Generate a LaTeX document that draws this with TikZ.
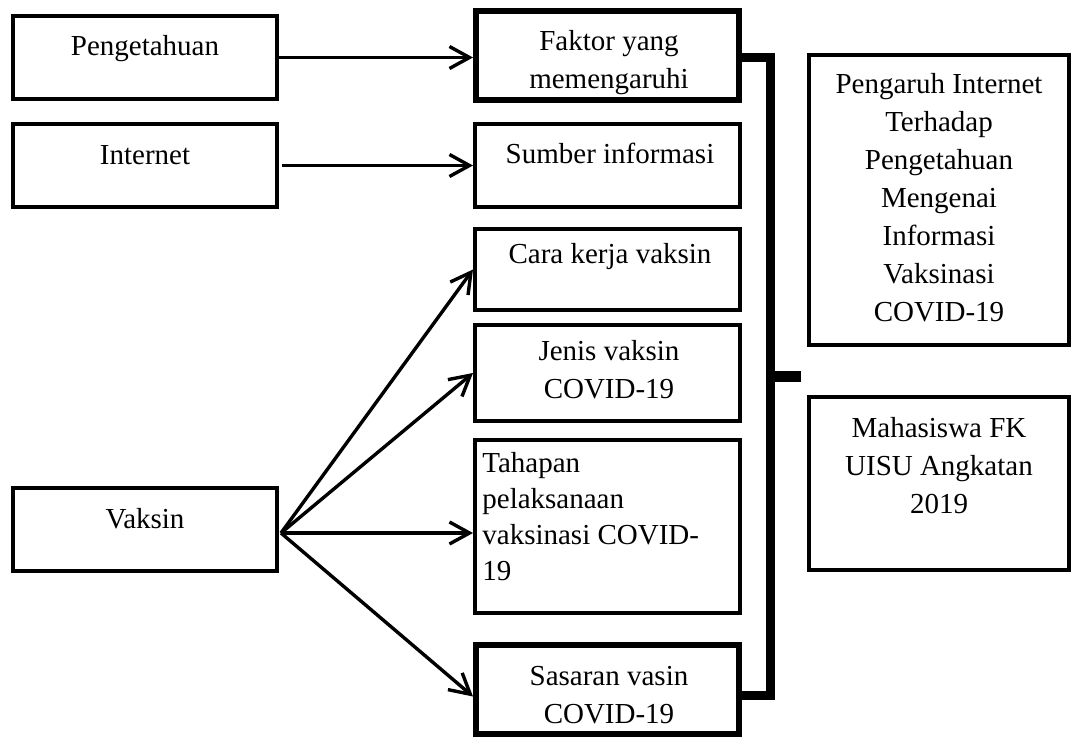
\documentclass[tikz,border=0pt]{standalone}
\usepackage{fontspec}
\setmainfont{Liberation Serif}
\usetikzlibrary{arrows.meta}
\begin{document}
\begin{tikzpicture}[x=0.5pt,y=-0.5pt,
  bx/.style={draw, line width=2pt, inner sep=0pt},
  thickbx/.style={draw, line width=3pt, inner sep=0pt},
  txt/.style={inner sep=0pt, anchor=base, align=center, font=\fontsize{14.5pt}{19pt}\selectfont},
  arr/.style={line width=1.7pt, -{Straight Barb[length=10pt,width=11pt,line width=1.7pt]}},
  bracket/.style={line width=4.5pt, line join=miter}
]
\useasboundingbox (0,0) rectangle (1073,740);
% left boxes
\node[bx, minimum width=132pt, minimum height=41.5pt] (peng) at (145,57.5) {};
\node[bx, minimum width=132pt, minimum height=41.5pt] (inet) at (145,165.5) {};
\node[bx, minimum width=132pt, minimum height=41.5pt] (vak) at (145,529.5) {};
\node[txt] (tpeng) at (145,55) {Pengetahuan};
\node[txt] (tinet) at (145,164) {Internet};
\node[txt] (tvak) at (145,528) {Vaksin};
% middle boxes
\node[thickbx, minimum width=131.5pt, minimum height=44.5pt] (fak) at (607.5,55.5) {};
\node[bx, minimum width=132.5pt, minimum height=41.5pt] (sum) at (607.5,165.5) {};
\node[bx, minimum width=132.5pt, minimum height=40.5pt] (cara) at (607.5,269.5) {};
\node[bx, minimum width=132.5pt, minimum height=48pt] (jen) at (607.5,373) {};
\node[bx, minimum width=132.5pt, minimum height=86.5pt] (tah) at (607.5,526.5) {};
\node[thickbx, minimum width=131.5pt, minimum height=44.5pt] (sas) at (607.5,689.5) {};
\node[txt] (tfak) at (609,88) {Faktor yang\\memengaruhi};
\node[txt] (tsum) at (610,163) {Sumber informasi};
\node[txt] (tcara) at (610,263) {Cara kerja vaksin};
\node[txt] (tjen) at (609,398) {Jenis vaksin\\COVID-19};
\node[txt, align=left, anchor=base west, font=\fontsize{14.5pt}{18pt}\selectfont] (ttah) at (482,580) {Tahapan\\pelaksanaan\\vaksinasi COVID-\\19};
\node[txt] (tsas) at (609,723) {Sasaran vasin\\COVID-19};
% right boxes
\node[bx, minimum width=130pt, minimum height=145pt] (pen) at (939,200) {};
\node[bx, minimum width=130pt, minimum height=86.5pt] (mah) at (939,483.5) {};
\node[txt] (tpen) at (939,321) {Pengaruh Internet\\Terhadap\\Pengetahuan\\Mengenai\\Informasi\\Vaksinasi\\COVID-19};
\node[txt] (tmah) at (939,513) {Mahasiswa FK\\UISU Angkatan\\2019};
% arrows
\draw[arr] (peng.east) -- (fak.west |- peng.east);
\draw[arr] ([xshift=1.5pt]inet.east) -- (sum.west);
\coordinate (vs) at (281,533);
\draw[arr] (vs) -- (cara.west);
\draw[arr] (vs) -- (jen.west);
\draw[arr] (vs) -- (tah.west |- vs);
\draw[arr] (vs) -- ([yshift=-3.5pt]sas.west);
% bracket
\coordinate (bt) at (770,57);
\coordinate (bb) at (770,695);
\coordinate (bm) at (770,376);
\coordinate (tk) at (801,376);
\draw[bracket] (fak.east |- bt) -- (bt) -- (bb) -- (sas.east |- bb);
\draw[line width=5.5pt] (bm) -- (tk);
\end{tikzpicture}
\end{document}
